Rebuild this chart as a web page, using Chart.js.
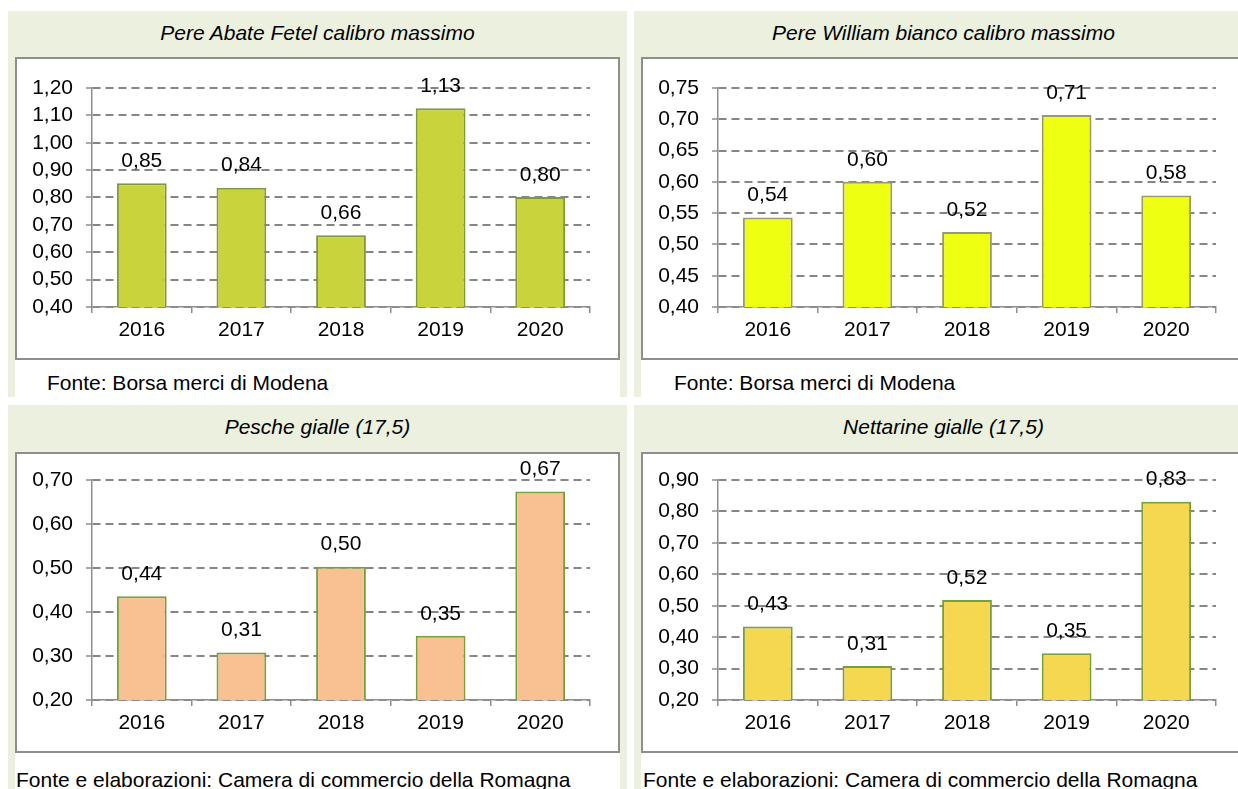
<!DOCTYPE html>
<html>
<head>
<meta charset="utf-8">
<script src="https://cdn.jsdelivr.net/npm/chart.js@4.4.1/dist/chart.umd.min.js"></script>
<style>
  body { margin: 0; background: #fff; width: 1238px; height: 789px; overflow: hidden; position: relative;
         font-family: "Liberation Sans", Arial, sans-serif; }
  .panel { position: absolute; background: #ebf1de; }
  .white { position: absolute; background: #fff; }
  .box { position: absolute; background: #fff; border: 2px solid #8e8e8e; box-sizing: border-box; }
  .holder { position: absolute; }
  .title { position: absolute; font-style: italic; font-size: 21px; line-height: 21px; text-align: center; color: #000; white-space: nowrap; }
  .src { position: absolute; font-size: 21px; line-height: 21px; color: #000; white-space: nowrap; }
</style>
</head>
<body>
<script>
const years = ['2016', '2017', '2018', '2019', '2020'];

const abateValues = [0.852, 0.836, 0.662, 1.126, 0.802];
const williamValues = [0.543, 0.600, 0.520, 0.707, 0.578];
const pescheValues = [0.436, 0.308, 0.503, 0.346, 0.674];
const nettarineValues = [0.434, 0.308, 0.518, 0.349, 0.831];

const titles = [
  'Pere Abate Fetel calibro massimo',
  'Pere William bianco calibro massimo',
  'Pesche gialle (17,5)',
  'Nettarine gialle (17,5)'
];
const sources = [
  'Fonte: Borsa merci di Modena',
  'Fonte: Borsa merci di Modena',
  'Fonte e elaborazioni: Camera di commercio della Romagna',
  'Fonte e elaborazioni: Camera di commercio della Romagna'
];

// y axis ranges
const yMin = [0.40, 0.40, 0.20, 0.20];
const yMax = [1.20, 0.75, 0.70, 0.90];
const yStep = [0.10, 0.05, 0.10, 0.10];

const fmt = v => v.toFixed(2).replace('.', ',');
const FONT = '"Liberation Sans", Arial, sans-serif';

const valueLabels = {
  id: 'valueLabels',
  afterDatasetsDraw(chart) {
    const ctx = chart.ctx;
    ctx.save();
    ctx.font = '21px ' + FONT;
    ctx.fillStyle = '#000';
    ctx.textAlign = 'center';
    ctx.textBaseline = 'middle';
    const meta = chart.getDatasetMeta(0);
    meta.data.forEach((bar, i) => {
      ctx.fillText(fmt(chart.data.datasets[0].data[i]), bar.x, bar.y - 22);
    });
    ctx.restore();
  }
};

function el(cls, css, text) {
  const d = document.createElement('div');
  d.className = cls;
  Object.assign(d.style, css);
  if (text) d.textContent = text;
  document.body.appendChild(d);
  return d;
}

function makePanel(idx, px, py, boxH, titleTop, plotTop, srcX, srcTop, data, fill, edge) {
  const isTop = py < 400;
  el('panel', { left: px + 'px', top: py + 'px', width: '619px', height: (isTop ? 386 : 789 - py) + 'px' });
  const boxTop = py + 46 + (isTop ? 0 : 1);
  el('white', { left: (px + 7) + 'px', top: boxTop + 'px', width: '605px',
                height: (isTop ? 397 - boxTop : 789 - boxTop) + 'px' });
  el('title', { left: px + 'px', top: titleTop + 'px', width: '619px' }, titles[idx]);
  el('box', { left: (px + 7) + 'px', top: boxTop + 'px', width: '605px', height: boxH + 'px' });
  el('src', { left: srcX + 'px', top: srcTop + 'px' }, sources[idx]);

  const holder = el('holder', { left: (px + 7) + 'px', top: boxTop + 'px', width: '605px', height: boxH + 'px' });
  const canvas = document.createElement('canvas');
  holder.appendChild(canvas);

  new Chart(canvas, {
    type: 'bar',
    data: {
      labels: years,
      datasets: [{
        data: data,
        backgroundColor: fill,
        borderColor: edge,
        borderWidth: 2,
        borderSkipped: false,
        barPercentage: 0.5,
        categoryPercentage: 1.0
      }]
    },
    options: {
      responsive: true,
      maintainAspectRatio: false,
      animation: false,
      layout: { padding: { top: plotTop, right: 30, left: 0, bottom: 0 } },
      plugins: { legend: { display: false }, tooltip: { enabled: false } },
      scales: {
        x: {
          offset: true,
          grid: { offset: true, drawOnChartArea: false, drawTicks: true, tickLength: 6,
                  color: '#8e8e8e', lineWidth: 1.5 },
          border: { color: '#8e8e8e', width: 1.5 },
          ticks: { color: '#000', font: { family: FONT, size: 21 }, padding: 5, autoSkip: false, maxRotation: 0 },
          afterFit: s => { s.height = 53; }
        },
        y: {
          min: yMin[idx],
          max: yMax[idx],
          grid: { color: '#868686', lineWidth: 2, tickLength: 6, tickBorderDash: [], tickColor: '#8e8e8e', tickWidth: 1.5 },
          border: { color: '#8e8e8e', width: 1.5, dash: [8, 5] },
          ticks: { stepSize: yStep[idx], color: '#000', font: { family: FONT, size: 21 }, padding: 13,
                   autoSkip: false, callback: v => fmt(v) },
          afterFit: s => { s.width = 77; }
        }
      }
    },
    plugins: [valueLabels]
  });
}

makePanel(0, 8, 11, 303, 22, 31, 47, 372, abateValues, '#c9d33c', '#7f9a3b');
makePanel(1, 634, 11, 303, 22, 31, 674, 372, williamValues, '#eeff11', '#9c9a6a');
makePanel(2, 8, 405, 301, 416, 28, 16, 769, pescheValues, '#f9c191', '#77a03c');
makePanel(3, 634, 405, 301, 416, 28, 643, 769, nettarineValues, '#f5d750', '#77a03c');
</script>
</body>
</html>
